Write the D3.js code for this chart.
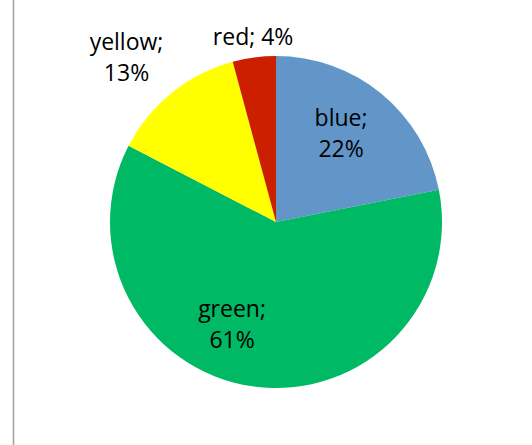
<!DOCTYPE html>
<html>
<head>
<meta charset="utf-8">
<script src="https://cdn.jsdelivr.net/npm/d3@7"></script>
<style>
  html, body { margin: 0; padding: 0; background: #fff; }
  svg { display: block; }
</style>
</head>
<body>
<svg id="chart" width="532" height="445"></svg>
<script>
// ---- data ----
const categories = ["blue", "green", "yellow", "red"];
const values = [21.9, 60.7, 13.2, 4.2];
const colors = ["#6296C9", "#00B964", "#FFFF00", "#CC1F00"];

// ---- label layout (radius factor, angle offset in degrees, multi-line) ----
const labelLayout = [
  { rf: 0.624, da: -0.5, split: true },
  { rf: 0.716, da: 13.6, split: true },
  { rf: 1.304, da: -4.8, split: true },
  { rf: 1.123, da: 0.5, split: false }
];

const W = 532, H = 445;
const cx = 276, cy = 222, R = 166;
const svg = d3.select("#chart");

svg.append("rect").attr("width", W).attr("height", H).attr("fill", "#fff");
// left frame edge
svg.append("line")
  .attr("x1", 13.5).attr("x2", 13.5).attr("y1", 0).attr("y2", H)
  .attr("stroke", "#a6a6a6").attr("stroke-width", 1.6);

const data = categories.map((c, i) => ({ name: c, value: values[i], color: colors[i] }));
const total = d3.sum(values);
const pct = d3.format(".0%");

const pie = d3.pie().sort(null).value(d => d.value);
const arcs = pie(data);
const arc = d3.arc().innerRadius(0).outerRadius(R);

const g = svg.append("g").attr("transform", `translate(${cx},${cy})`);
g.selectAll("path.slice").data(arcs).join("path")
  .attr("class", "slice")
  .attr("d", arc)
  .attr("fill", d => d.data.color);

g.selectAll("text.lbl").data(arcs).join("text")
  .attr("class", "lbl")
  .attr("text-anchor", "middle")
  .attr("font-family", "'Open Sans', 'Noto Sans', sans-serif")
  .attr("font-size", 23)
  .attr("fill", "#000")
  .each(function(d, i) {
    const L = labelLayout[i];
    const mid = (d.startAngle + d.endAngle) / 2 + L.da * Math.PI / 180;
    const r = R * L.rf;
    const x = Math.sin(mid) * r;
    const y = -Math.cos(mid) * r;
    const t = d3.select(this);
    const p = pct(d.data.value / total);
    if (L.split) {
      t.append("tspan").attr("x", x).attr("y", y - 15.5).text(d.data.name + ";");
      t.append("tspan").attr("x", x).attr("y", y + 15.5).text(p);
    } else {
      t.append("tspan").attr("x", x).attr("y", y + 8).text(d.data.name + "; " + p);
    }
  });
</script>
</body>
</html>
